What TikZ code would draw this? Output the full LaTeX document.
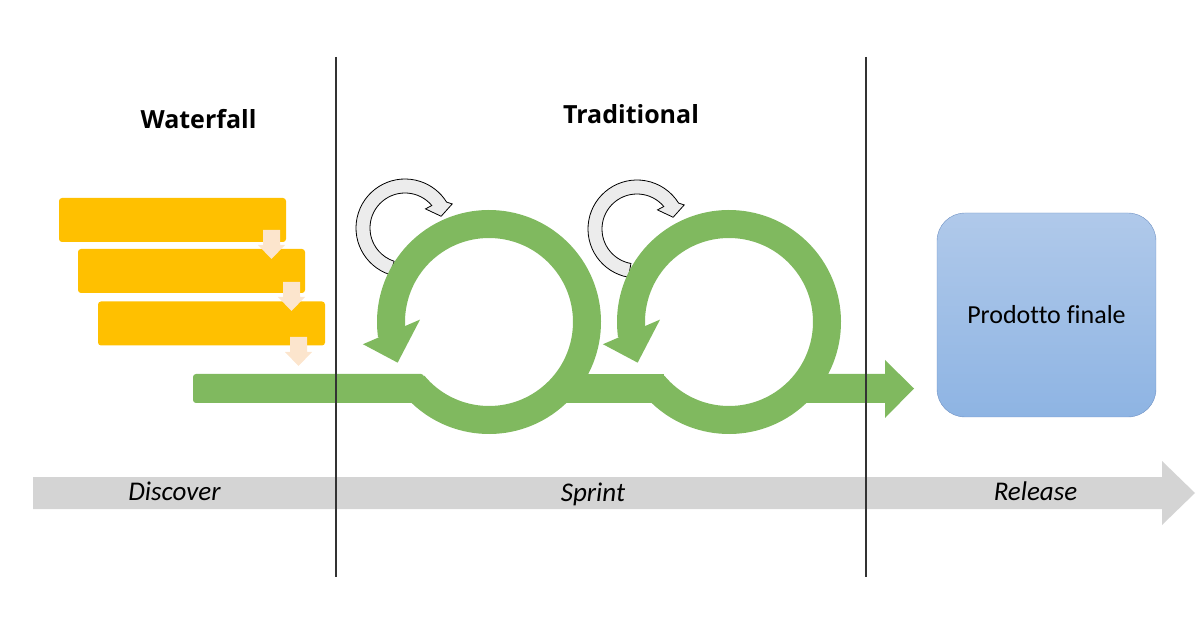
\documentclass[tikz,border=0pt]{standalone}
\usepackage{fontspec}
\setmainfont{Carlito}[Ligatures=NoCommon]
\newfontfamily\headfont{Open Sans}
\usetikzlibrary{calc}

\definecolor{sprintgreen}{RGB}{128,185,95}
\definecolor{wateryellow}{RGB}{255,192,0}
\definecolor{droppeach}{RGB}{252,229,205}
\definecolor{bandgray}{RGB}{212,212,212}
\definecolor{turngray}{RGB}{236,236,236}
\definecolor{boxtop}{RGB}{176,201,234}
\definecolor{boxbottom}{RGB}{142,180,227}
\definecolor{boxline}{RGB}{112,146,196}

\begin{document}
\begin{tikzpicture}[x=1pt,y=1pt]
    % `phasebox' is used for the waterfall bars, `drop' for the arrows between them.
    % `turn' is the small grey arrow above each sprint loop.
    % `loopline' draws the green sprint loops and the green line through them.
    \tikzstyle{phasebox} = [fill=wateryellow,rounded corners=3pt,minimum width=227pt,minimum height=44pt,inner sep=0pt]
    \tikzstyle{heading} = [anchor=base,font=\headfont\bfseries\fontsize{25}{30}\selectfont]
    \tikzstyle{stage} = [anchor=base,font=\itshape\fontsize{27}{30}\selectfont]
    \tikzstyle{loopline} = [draw=sprintgreen,line width=28pt]
    \tikzstyle{turnline} = [draw=black,fill=turngray,line width=0.8pt]
    \tikzstyle{divider} = [draw=black!80,line width=1.2pt]
    \tikzset{
      pics/drop/.style={code={
        \fill[droppeach] (-8.5,0) -- (8.5,0) -- (8.5,-15) -- (13.5,-15) -- (0,-29)
                         -- (-13.5,-15) -- (-8.5,-15) -- cycle;}},
      pics/turn/.style={code={
        \draw[turnline] (#1:49) arc[start angle=#1,end angle=32,radius=49]
          -- (27:53) -- (18:38) -- (43:28) -- (40:35)
          arc[start angle=40,end angle=#1,radius=35] -- cycle;}}
    }
    \useasboundingbox (0,0) rectangle (1200,630);
    %
    % Timeline band at the bottom.
    \fill[bandgray] (33,121) -- (1162,121) -- (1162,105) -- (1195,137)
                    -- (1162,169) -- (1162,153) -- (33,153) -- cycle;
    \node[stage] (discover) at (174.5,130) {Discover};
    \node[stage] (sprint) at (593,129) {Sprint};
    \node[stage] (release) at (1035.5,130) {Release};
    %
    % Waterfall part.
    \node[heading] (waterfall) at (198.5,501) {Waterfall};
    \node[phasebox] (bar1) at (172.5,410) {};
    \node[phasebox] (bar2) at (191.5,359) {};
    \node[phasebox] (bar3) at (211.5,306.5) {};
    \pic at (271.5,400) {drop};
    \pic at (291.5,348) {drop};
    \pic at (298.5,293) {drop};
    %
    % Sprint loops.
    \node[heading] (traditional) at (631,506) {Traditional};
    \coordinate (loop1) at (489,308);
    \coordinate (loop2) at (729,308);
    \pic at (405,402) {turn=252};
    \pic at (637,401) {turn=260};
    \fill[sprintgreen, rounded corners=3pt] (193,227) rectangle (424,256);
    \fill[sprintgreen] (557,227) rectangle (664,256);
    \fill[sprintgreen] (797,227) -- (885,227) -- (885,212) -- (914,241.5)
                       -- (885,270) -- (885,256) -- (797,256) -- cycle;
    \foreach \l in {loop1,loop2} {
      \draw[loopline] ($(\l)+(220:98)$) arc[start angle=220,end angle=548,radius=98];
      \fill[sprintgreen] ($(\l)+(190:128)$) -- ($(\l)+(204:100)$) -- ($(\l)+(178:69)$) -- cycle;
    }
    %
    % Release part.
    \node[draw=boxline,top color=boxtop,bottom color=boxbottom,rounded corners=28pt,
          minimum width=219pt,minimum height=204pt,inner sep=0pt,
          font=\fontsize{26}{30}\selectfont] (prodotto) at (1046.5,315) {Prodotto finale};
    %
    % Phase dividers.
    \draw[divider] (336,573) -- (336,53);
    \draw[divider] (866,573) -- (866,53);
\end{tikzpicture}
\end{document}
